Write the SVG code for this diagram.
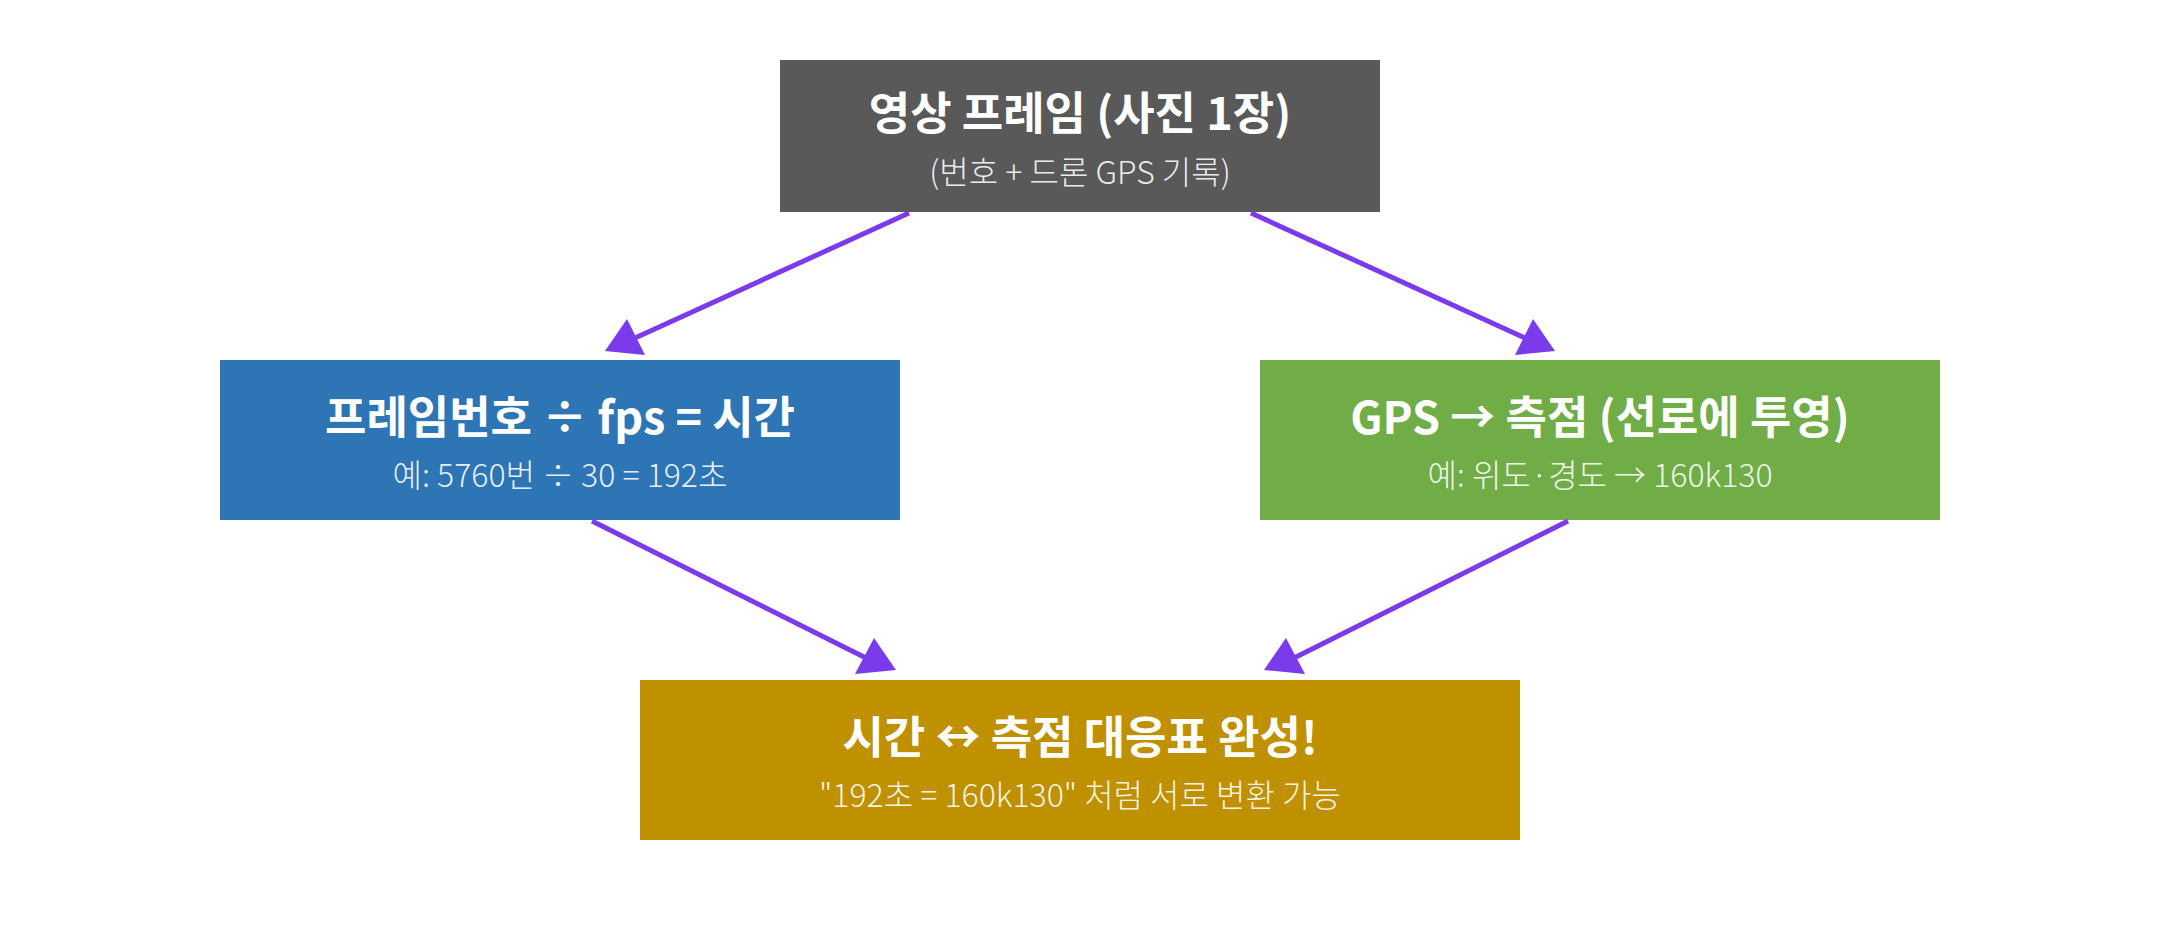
<svg xmlns="http://www.w3.org/2000/svg" width="2160" height="940" viewBox="0 0 2160 940">
<style>
.title{font-family:"Noto Sans CJK KR","Noto Sans",sans-serif;font-size:45px;font-weight:700;fill:#ffffff;text-anchor:middle}
.sub{font-family:"Noto Sans CJK KR","Noto Sans",sans-serif;font-size:32px;font-weight:300;fill:#ffffff;fill-opacity:0.9;text-anchor:middle}
.edge{stroke:#7c3aed;stroke-width:5;fill:none}
.head{fill:#7c3aed}
</style>
<rect width="2160" height="940" fill="#ffffff"/>
<g id="frame">
<rect x="780" y="60" width="600" height="152" fill="#595959"/>
<text class="title" x="1080" y="130">영상 프레임 (사진 1장)</text>
<text class="sub" x="1080" y="184">(번호 + 드론 GPS 기록)</text>
</g>
<g id="time">
<rect x="220" y="360" width="680" height="160" fill="#2e75b6"/>
<text class="title" x="560" y="434">프레임번호 ÷ fps = 시간</text>
<text class="sub" x="560" y="487">예: 5760번 ÷ 30 = 192초</text>
</g>
<g id="gps">
<rect x="1260" y="360" width="680" height="160" fill="#70ad47"/>
<text class="title" x="1600" y="434">GPS → 측점 (선로에 투영)</text>
<text class="sub" x="1600" y="487">예: 위도·경도 → 160k130</text>
</g>
<g id="table">
<rect x="640" y="680" width="880" height="160" fill="#bf9000"/>
<text class="title" x="1080" y="754">시간 ↔ 측점 대응표 완성!</text>
<text class="sub" x="1080" y="807">"192초 = 160k130" 처럼 서로 변환 가능</text>
</g>
<g id="connectors">
<line class="edge" x1="909" y1="213" x2="635" y2="338"/>
<polygon class="head" points="627,319 605,351 645,355"/>
<line class="edge" x1="1251" y1="213" x2="1525" y2="338"/>
<polygon class="head" points="1533,319 1515,355 1555,351"/>
<line class="edge" x1="592" y1="521" x2="866" y2="658"/>
<polygon class="head" points="874,638 855,674 896,670"/>
<line class="edge" x1="1568" y1="521" x2="1294" y2="658"/>
<polygon class="head" points="1286,638 1305,674 1264,670"/>
</g>
</svg>
